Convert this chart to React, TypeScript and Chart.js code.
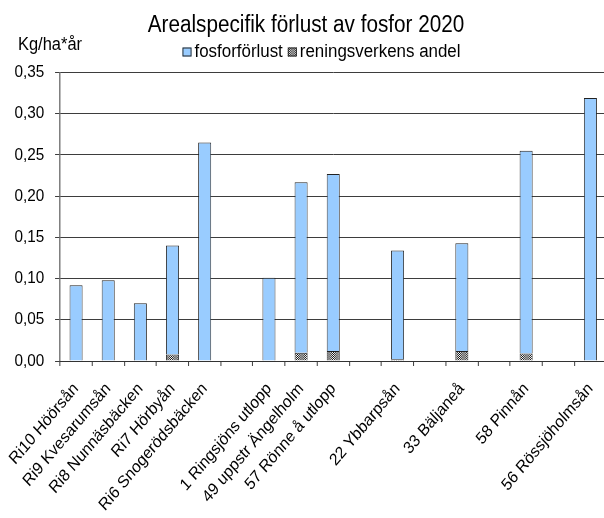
import React, { useEffect, useRef } from "react";
import { Chart, registerables } from "chart.js";

Chart.register(...registerables);

// Stations along the x axis; empty strings are spacer slots between river groups
const categories: string[] = [
  "Ri10 Höörsån",
  "Ri9 Kvesarumsån",
  "Ri8 Nunnäsbäcken",
  "Ri7 Hörbyån",
  "Ri6 Snogerödsbäcken",
  "",
  "1 Ringsjöns utlopp",
  "49 uppstr Ängelholm",
  "57 Rönne å utlopp",
  "",
  "22 Ybbarpsån",
  "",
  "33 Bäljaneå",
  "",
  "58 Pinnån",
  "",
  "56 Rössjöholmsån",
];

// Total area-specific phosphorus loss (kg/ha*år)
const fosforforlust: (number | null)[] = [
  0.092, 0.098, 0.07, 0.14, 0.265, null, 0.101, 0.217, 0.227, null, 0.134,
  null, 0.143, null, 0.255, null, 0.319,
];

// Portion of the loss coming from sewage treatment plants
const reningsverkensAndel: (number | null)[] = [
  null, null, null, 0.008, null, null, null, 0.01, 0.012, null, 0.002, null,
  0.012, null, 0.009, null, null,
];

const yTicks: number[] = [0, 0.05, 0.1, 0.15, 0.2, 0.25, 0.3, 0.35];

const TITLE = "Arealspecifik förlust av fosfor 2020";
const UNIT = "Kg/ha*år";
const LEGEND_LABELS = ["fosforförlust", "reningsverkens andel"];

const FONT = '"Liberation Sans", Arial, sans-serif';
const BLUE = "#99ccff";
const EDGE = "#222222";

// The chart is laid out on a wider logical canvas and drawn with a
// horizontal compression, giving narrow type and steep axis labels.
const SX = 0.9;
const LOGICAL_W = 680;
const H = 518;

function makeChecker(): CanvasPattern | string {
  const c = document.createElement("canvas");
  c.width = 2;
  c.height = 2;
  const g = c.getContext("2d");
  if (!g) return "#888";
  g.fillStyle = "#ffffff";
  g.fillRect(0, 0, 2, 2);
  g.fillStyle = "#111111";
  g.fillRect(0, 0, 1, 1);
  g.fillRect(1, 1, 1, 1);
  const p = g.createPattern(c, "repeat");
  return p || "#888";
}

export default function App() {
  const ref = useRef<HTMLCanvasElement>(null);

  useEffect(() => {
    if (!ref.current) return;
    const checker = makeChecker();

    // blue part sits above the sewage share so the stack reaches the total
    const bluePart = fosforforlust.map((t, i) =>
      t == null ? null : +(t - (reningsverkensAndel[i] || 0)).toFixed(4)
    );

    const condensePlugin = {
      id: "condense",
      beforeDraw(chart: Chart) {
        chart.ctx.save();
        chart.ctx.scale(SX, 1);
      },
      afterDraw(chart: Chart) {
        const ctx = chart.ctx;
        ctx.save();
        ctx.fillStyle = "#000";
        ctx.textBaseline = "alphabetic";

        ctx.font = `23px ${FONT}`;
        ctx.textAlign = "center";
        ctx.fillText(TITLE, 306 / SX, 31.5);

        ctx.font = `18.3px ${FONT}`;
        ctx.textAlign = "left";
        ctx.fillText(UNIT, 18 / SX, 50);

        // legend row
        ctx.font = `18.8px ${FONT}`;
        const box = 9 / SX;
        const gap = 3 / SX;
        const between = 5 / SX;
        const w1 = ctx.measureText(LEGEND_LABELS[0]).width;
        const w2 = ctx.measureText(LEGEND_LABELS[1]).width;
        const total = box + gap + w1 + between + box + gap + w2;
        let x = 321.5 / SX - total / 2;
        const by = 47.5;
        const fills: (string | CanvasPattern)[] = [BLUE, checker];
        [w1, w2].forEach((w, i) => {
          ctx.fillStyle = fills[i];
          ctx.fillRect(x, by, box, 9);
          ctx.strokeStyle = EDGE;
          ctx.lineWidth = 1;
          ctx.strokeRect(x + 0.5, by + 0.5, box - 1, 8);
          ctx.fillStyle = "#000";
          ctx.fillText(LEGEND_LABELS[i], x + box + gap, 57);
          x += box + gap + w + between;
        });
        ctx.restore();
        ctx.restore();
      },
    };

    const chart = new Chart(ref.current, {
      type: "bar",
      data: {
        labels: categories,
        datasets: [
          {
            label: LEGEND_LABELS[1],
            data: reningsverkensAndel,
            backgroundColor: checker as any,
            borderColor: EDGE,
            borderWidth: 1,
            barPercentage: 0.405,
            categoryPercentage: 1,
          },
          {
            label: LEGEND_LABELS[0],
            data: bluePart,
            backgroundColor: BLUE,
            borderColor: EDGE,
            borderWidth: 1,
            barPercentage: 0.405,
            categoryPercentage: 1,
          },
        ],
      },
      options: {
        animation: false,
        responsive: false,
        devicePixelRatio: 1,
        layout: {
          padding: { top: 72.5, left: 0, right: LOGICAL_W - 606.5 / SX, bottom: 0 },
        },
        plugins: {
          legend: { display: false },
          title: { display: false },
          tooltip: { enabled: false },
        },
        scales: {
          x: {
            stacked: true,
            grid: {
              offset: true,
              drawOnChartArea: false,
              drawTicks: true,
              tickLength: 5,
              color: "#333",
            },
            border: { display: true, color: "#333", width: 1 },
            ticks: {
              autoSkip: false,
              minRotation: 47,
              maxRotation: 47,
              padding: 13,
              color: "#000",
              font: { family: FONT, size: 17 },
            },
            afterFit: (s: any) => {
              s.height = H - 361;
              s.paddingLeft = 0;
              s.paddingRight = 0;
            },
          },
          y: {
            stacked: true,
            min: 0,
            max: 0.35,
            afterBuildTicks: (s: any) => {
              s.ticks = yTicks.map((v) => ({ value: v }));
            },
            ticks: {
              padding: 12,
              color: "#000",
              font: { family: FONT, size: 17 },
              callback: (v: any) => Number(v).toFixed(2).replace(".", ","),
            },
            grid: { color: "#333", tickLength: 5.5, drawTicks: true },
            border: { display: true, color: "#333", width: 1 },
            afterFit: (s: any) => {
              s.width = 60 / SX;
            },
          },
        },
      },
      plugins: [condensePlugin],
    });
    return () => chart.destroy();
  }, []);

  return (
    <div
      style={{
        position: "fixed",
        left: 0,
        top: 0,
        width: 604,
        height: H,
        overflow: "hidden",
        background: "#fff",
      }}
    >
      <canvas
        ref={ref}
        width={LOGICAL_W}
        height={H}
        style={{ display: "block", width: LOGICAL_W, height: H }}
      />
    </div>
  );
}
